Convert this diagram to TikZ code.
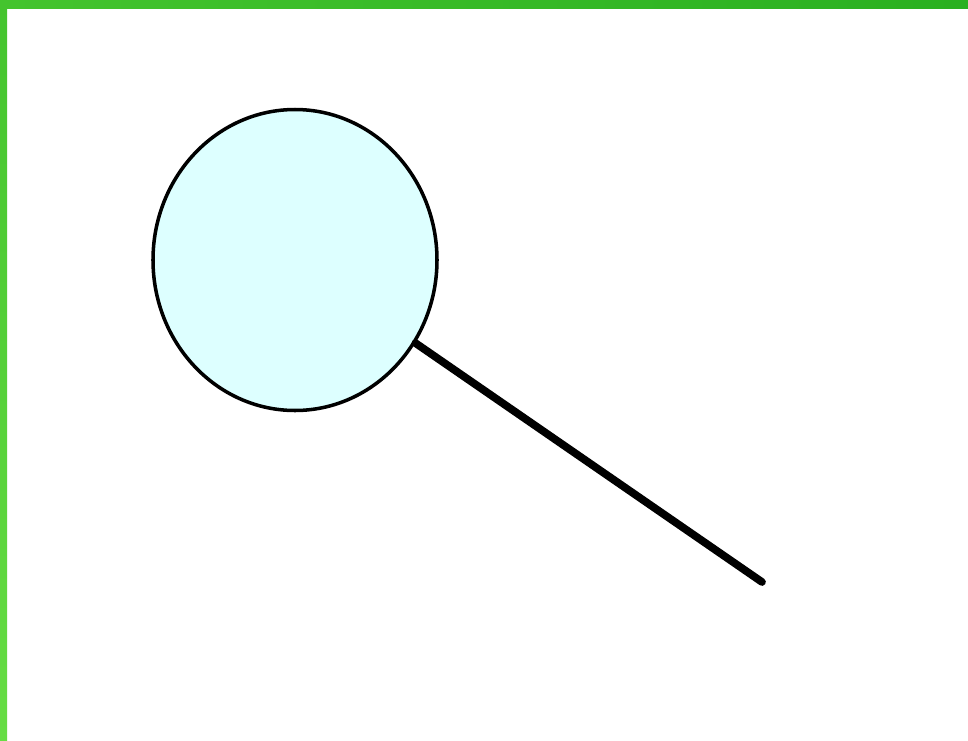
\documentclass[tikz,border=0pt]{standalone}
\usetikzlibrary{shapes.geometric}

\definecolor{frameA}{HTML}{44C42E}
\definecolor{frameB}{HTML}{2AB020}
\definecolor{frameC}{HTML}{66DD44}
\definecolor{bulbfill}{HTML}{DDFFFF}

\begin{document}
\begin{tikzpicture}[x=0.02cm, y=-0.02cm]

% ==================== CANVAS ====================
\useasboundingbox[fill=white] (0,0) rectangle (968,741);

% Green frame (top and left bands)
\shade[left color=frameA, right color=frameB] (0,0) rectangle (968,8);
\shade[top color=frameA, bottom color=frameC] (0,0) rectangle (7,741);

% ==================== BULB AND STICK ====================
\node[ellipse, draw, line width=2pt, fill=bulbfill, inner sep=0pt,
      minimum width=284*0.02cm, minimum height=301*0.02cm] (bulb) at (295,260) {};

% Stick end
\coordinate (tip) at (762,582);

% Stick
\draw[line width=4.4pt, line cap=round] (bulb) -- (tip);

\end{tikzpicture}
\end{document}
